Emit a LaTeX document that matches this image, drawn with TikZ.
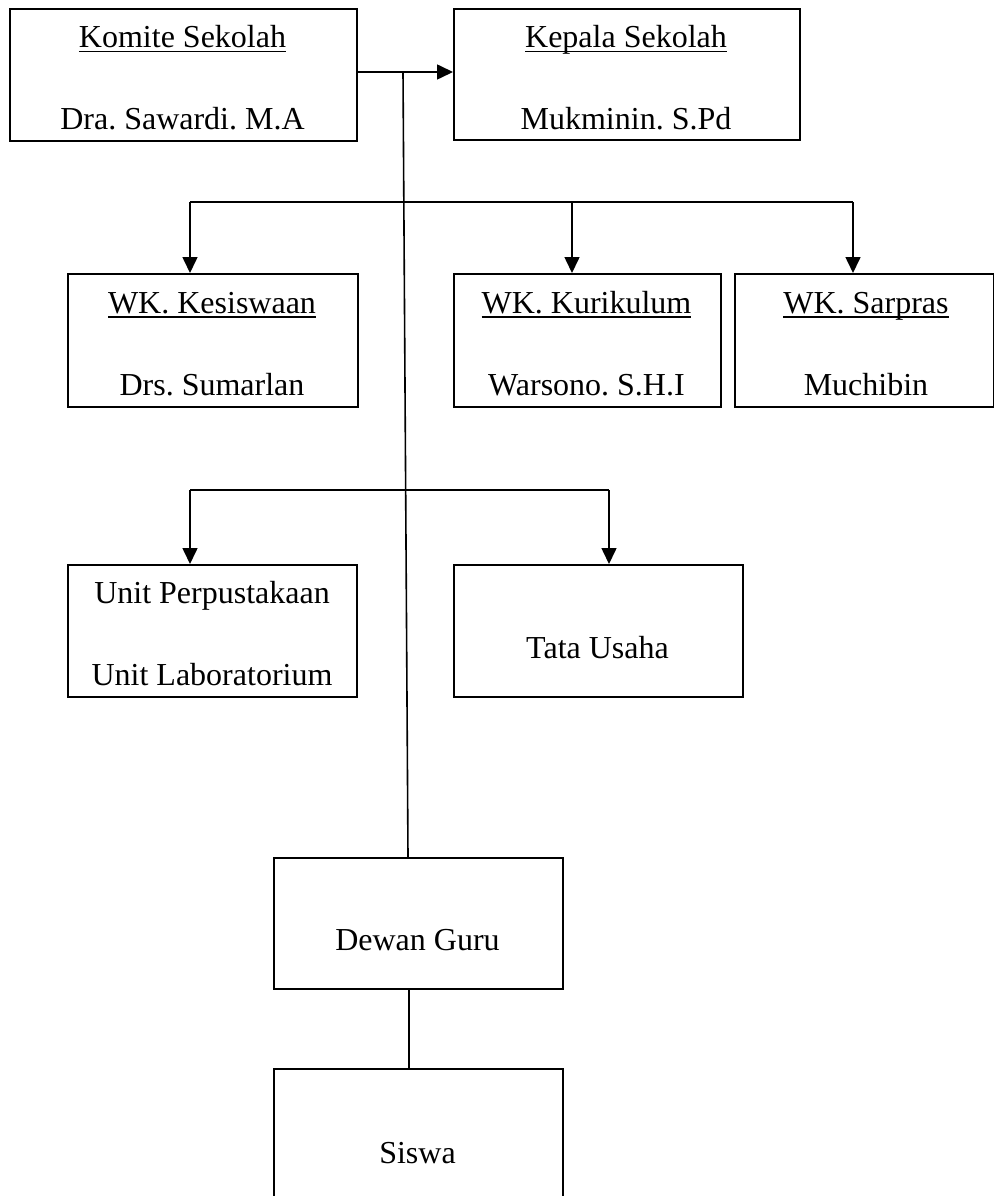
\documentclass[tikz,border=0pt]{standalone}
\usepackage{fontspec}
\setmainfont{Liberation Serif}
\usetikzlibrary{arrows.meta,calc}
\frenchspacing
\newcommand\myul[1]{\setbox0\hbox{#1}\rlap{\rule[-4.5pt]{\wd0}{1.6pt}}\box0}
\begin{document}
\begin{tikzpicture}[x=1pt,y=-1pt,
  box/.style={draw, line width=1.6pt, inner sep=0pt, anchor=north west},
  txt/.style={inner sep=0pt, anchor=base, font=\fontsize{32}{38}\selectfont\frenchspacing},
  conn/.style={line width=1.6pt},
  arr/.style={conn, -{Triangle[length=16pt,width=15pt]}}]
\useasboundingbox (0,0) rectangle (993,1196);

% boxes
\node[box, minimum width=347pt, minimum height=132pt] (komite) at (9,8) {};
\node[box, minimum width=346pt, minimum height=131pt] (kepala) at (453,8) {};
\node[box, minimum width=290pt, minimum height=133pt] (kes) at (67,273) {};
\node[box, minimum width=267pt, minimum height=133pt] (kur) at (453,273) {};
\node[box, minimum width=259pt, minimum height=133pt] (sar) at (734,273) {};
\node[box, minimum width=289pt, minimum height=132pt] (unit) at (67,564) {};
\node[box, minimum width=289pt, minimum height=132pt] (tata) at (453,564) {};
\node[box, minimum width=289pt, minimum height=131pt] (dewan) at (273,857) {};
\node[box, minimum width=289pt, minimum height=131pt] (siswa) at (273,1068) {};

% texts
\node[txt] (t1a) at (182.5,48) {\myul{Komite Sekolah}};
\node[txt] (t1b) at (182.5,129) {Dra. Sawardi. M.A};
\node[txt] (t2a) at (626,48) {\myul{Kepala Sekolah}};
\node[txt] (t2b) at (626,129) {Mukminin. S.Pd};
\node[txt] (t3a) at (212,313) {\myul{WK. Kesiswaan}};
\node[txt] (t3b) at (212,395) {Drs. Sumarlan};
\node[txt] (t4a) at (586.5,313) {\myul{WK. Kurikulum}};
\node[txt] (t4b) at (586.5,395) {Warsono. S.H.I};
\node[txt] (t5a) at (866,313) {\myul{WK. Sarpras}};
\node[txt] (t5b) at (866,395) {Muchibin};
\node[txt] (t6a) at (212,603) {Unit Perpustakaan};
\node[txt] (t6b) at (212,685) {Unit Laboratorium};
\node[txt] (t7) at (597.5,658) {Tata Usaha};
\node[txt] (t8) at (417.5,950) {Dewan Guru};
\node[txt] (t9) at (417.5,1163) {Siswa};

% connectors
\coordinate (j1) at (403,72);
\coordinate (dtop) at ($(dewan.north west)+(135,0)$);
\draw[arr] (j1 -| komite.east) -- (j1 -| kepala.west);
\draw[conn] (j1) -- (dtop);

\coordinate (b1l) at (190,202);
\coordinate (b1m) at (572,202);
\coordinate (b1r) at (853,202);
\draw[conn] (b1l) -- (b1r);
\draw[arr] (b1l) -- (b1l |- kes.north);
\draw[arr] (b1m) -- (b1m |- kur.north);
\draw[arr] (b1r) -- (b1r |- sar.north);

\coordinate (b2l) at (190,490);
\coordinate (b2r) at (609,490);
\draw[conn] (b2l) -- (b2r);
\draw[arr] (b2l) -- (b2l |- unit.north);
\draw[arr] (b2r) -- (b2r |- tata.north);

\coordinate (d1) at ($(dewan.south west)+(136,0)$);
\draw[conn] (d1) -- (d1 |- siswa.north);
\end{tikzpicture}
\end{document}
